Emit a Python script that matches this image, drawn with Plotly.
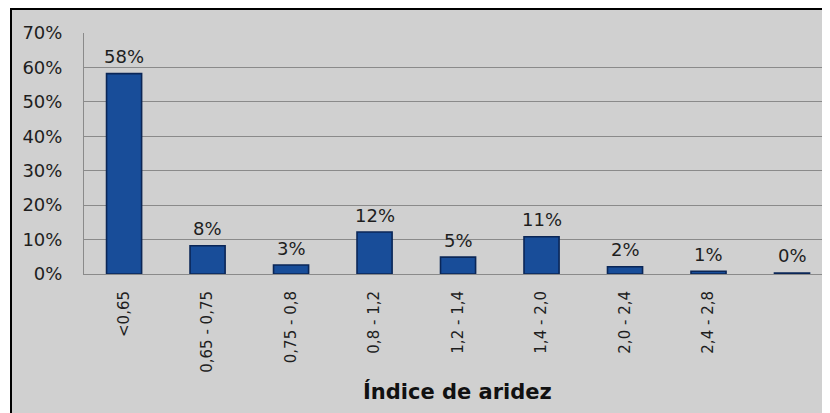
import plotly.graph_objects as go

categories = ["<0,65", "0,65 - 0,75", "0,75 - 0,8", "0,8 - 1,2", "1,2 - 1,4",
              "1,4 - 2,0", "2,0 - 2,4", "2,4 - 2,8", " "]
values = [58.2, 8.2, 2.6, 12.2, 4.9, 10.8, 2.1, 0.8, 0.3]
value_labels = ["58%", "8%", "3%", "12%", "5%", "11%", "2%", "1%", "0%"]
y_ticks = [0, 10, 20, 30, 40, 50, 60, 70]
y_tick_labels = ["0%", "10%", "20%", "30%", "40%", "50%", "60%", "70%"]
x_title = "Índice de aridez"

# page body has an 8px margin, so the figure is 8px smaller than the window
W, H = 822, 405
ML, MR, MT, MB = 76, 0, 25, 139
pw, ph = W - ML - MR, H - MT - MB

def px_x(p):
    return (p - ML) / pw

def px_y(p):
    return (H - MB - p) / ph

font_main = "DejaVu Sans"
txt_col = "#1e1e1e"

fig = go.Figure()
fig.add_trace(go.Bar(
    x=categories, y=values, width=0.42,
    marker=dict(color="#184d99", line=dict(color="#0a2657", width=1.6)),
    hoverinfo="skip",
))

annotations = []
for c, v, t in zip(categories, values, value_labels):
    annotations.append(dict(x=c, y=v, xref="x", yref="y", text=t, showarrow=False,
                            yanchor="middle", yshift=17,
                            font=dict(family=font_main, size=18, color=txt_col)))
annotations.append(dict(x=0.5, y=px_y(383), xref="paper", yref="paper", text="<b>" + x_title + "</b>",
                        showarrow=False, xanchor="center", yanchor="middle",
                        font=dict(family=font_main, size=21, color="#111111")))

fig.update_layout(
    width=W, height=H,
    margin=dict(l=ML, r=MR, t=MT, b=MB, pad=0),
    paper_bgcolor="white",
    plot_bgcolor="#d0d0d0",
    showlegend=False,
    annotations=annotations,
    shapes=[dict(type="rect", xref="paper", yref="paper",
                 x0=px_x(3), x1=px_x(W + 20), y0=px_y(H + 20), y1=px_y(1),
                 fillcolor="#d0d0d0", line=dict(color="#000000", width=2), layer="below")],
    xaxis=dict(
        type="category", range=[-0.48, 8.455],
        tickvals=categories, ticktext=categories,
        tickangle=-90, ticklabelstandoff=10,
        tickfont=dict(family=font_main, size=15, color=txt_col),
        showgrid=False, showline=True, linecolor="#8a8a8a", linewidth=1,
        zeroline=False, ticks="",
    ),
    yaxis=dict(
        range=[0, 70], tickvals=y_ticks, ticktext=y_tick_labels,
        tickfont=dict(family=font_main, size=18, color=txt_col),
        ticklabelstandoff=17,
        showgrid=True, gridcolor="#8a8a8a", gridwidth=1,
        showline=True, linecolor="#8a8a8a", linewidth=1,
        zeroline=False, ticks="",
    ),
)

fig.write_html("out.html")
